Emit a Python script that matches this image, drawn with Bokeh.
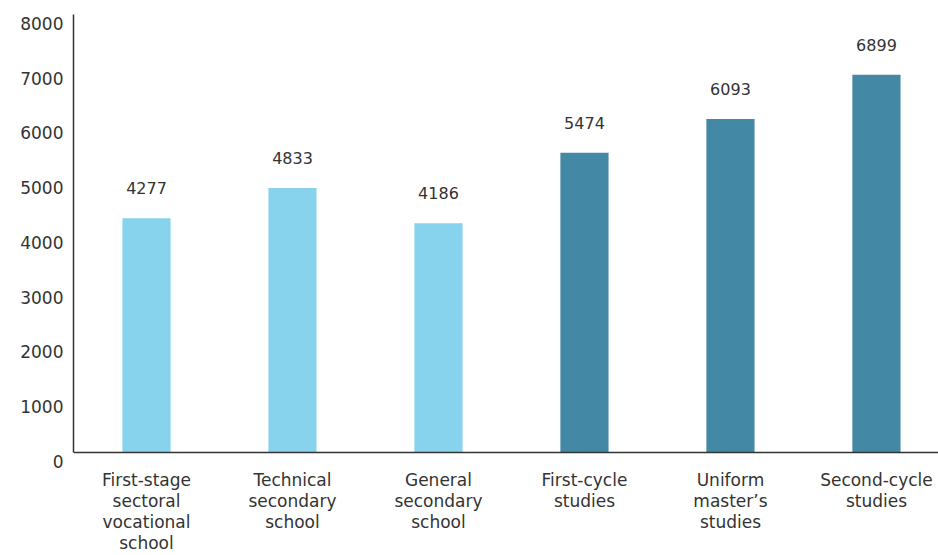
from bokeh.plotting import figure
from bokeh.models import ColumnDataSource, Range1d, FixedTicker, LabelSet, LinearAxis, Span
from bokeh.core.properties import value
from bokeh.embed import file_html
from bokeh.resources import INLINE

categories = [
    "First-stage\nsectoral\nvocational\nschool",
    "Technical\nsecondary\nschool",
    "General\nsecondary\nschool",
    "First-cycle\nstudies",
    "Uniform\nmaster’s\nstudies",
    "Second-cycle\nstudies",
]
values = [4277, 4833, 4186, 5474, 6093, 6899]
groups = ["school", "school", "school", "higher", "higher", "higher"]
y_ticks = [0, 1000, 2000, 3000, 4000, 5000, 6000, 7000, 8000]

palette = {"school": "#87d3ee", "higher": "#4389a6"}
FONT = "DejaVu Sans"
TXT = "#333333"
X_START, X_END = -0.5, 5.425
Y_MAX = 8000
LABEL_SHIFT = 164  # tick labels sit a little below their tick positions

positions = list(range(len(categories)))
src = ColumnDataSource(dict(
    x=positions,
    top=values,
    color=[palette[g] for g in groups],
    label=[str(v) for v in values],
))

p = figure(width=938, height=555, output_backend="svg", toolbar_location=None,
           x_range=Range1d(X_START, X_END), y_range=Range1d(-LABEL_SHIFT, Y_MAX),
           min_border_left=73, min_border_right=0, min_border_top=14, min_border_bottom=0)
p.extra_y_ranges = {"lab": Range1d(0, Y_MAX + LABEL_SHIFT)}

p.vbar(x="x", top="top", width=0.33, bottom=0, color="color", line_color=None, source=src)

labels = LabelSet(x="x", y="top", text="label", source=src, y_offset=24,
                  text_align="center", text_baseline="bottom",
                  text_font=value(FONT), text_font_size="16px", text_color=TXT)
p.add_layout(labels)

p.xgrid.visible = False
p.ygrid.visible = False
p.outline_line_color = None

# x axis: labels only, the line is drawn at y = 0
p.xaxis.ticker = FixedTicker(ticks=positions)
p.xaxis.major_label_overrides = {i: c for i, c in enumerate(categories)}
p.xaxis.axis_line_color = None
p.xaxis.major_tick_line_color = None
p.xaxis.minor_tick_line_color = None
p.xaxis.major_tick_out = 0
p.xaxis.major_tick_in = 0
p.xaxis.major_label_text_font = FONT
p.xaxis.major_label_text_font_size = "17px"
p.xaxis.major_label_text_color = TXT
p.xaxis.major_label_text_line_height = 1.05
p.xaxis.major_label_standoff = 8
p.add_layout(Span(location=0, dimension="width", line_color=TXT, line_width=1.5))

# y axis: line only, from 0 to max
ya = p.yaxis[0]
ya.ticker = FixedTicker(ticks=[])
ya.bounds = (0, Y_MAX)
ya.axis_line_color = TXT
ya.axis_line_width = 1.5
ya.major_tick_line_color = None
ya.minor_tick_line_color = None
ya.major_tick_out = 0
ya.major_tick_in = 0
ya.major_label_standoff = 0

# tick labels on the shifted range
lab_axis = LinearAxis(y_range_name="lab", ticker=FixedTicker(ticks=y_ticks),
                      axis_line_color=None, major_tick_line_color=None,
                      minor_tick_line_color=None, major_tick_out=0, major_tick_in=0,
                      major_label_standoff=10,
                      major_label_text_font=FONT, major_label_text_font_size="17px",
                      major_label_text_color=TXT)
p.add_layout(lab_axis, "left")

open("out.html", "w").write(file_html(p, INLINE))
